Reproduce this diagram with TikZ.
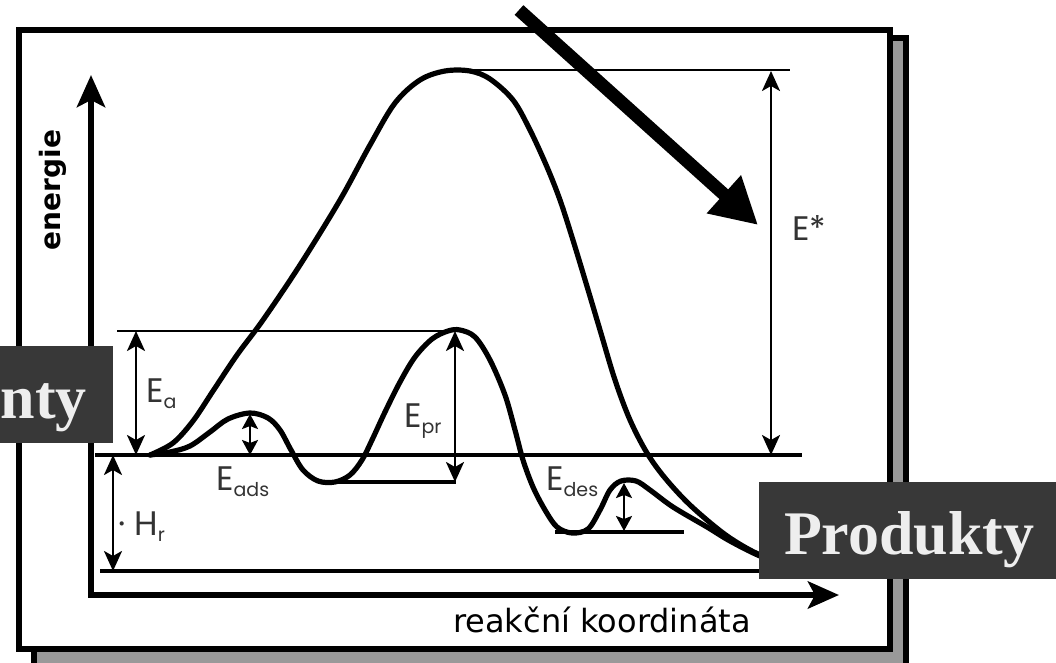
\documentclass[tikz,border=0pt]{standalone}
\usepackage{fontspec}
\setmainfont{Liberation Serif}
\newfontfamily\labfont{Poppins}
\newfontfamily\axfont{DejaVu Sans}
\usetikzlibrary{arrows.meta}
\definecolor{boxgray}{HTML}{383838}
\definecolor{boxtext}{HTML}{EEEEEE}
\definecolor{shadowgray}{HTML}{999999}
\newcommand{\lowtxt}[1]{\raisebox{-6pt}{\fontsize{19}{20}\selectfont #1}}
\begin{document}
\begin{tikzpicture}[x=1pt,y=-1pt,
  curve/.style={line width=5.2pt, line join=round, line cap=round},
  level/.style={line width=3.8pt},
  thinlevel/.style={line width=2.4pt},
  dimarrow/.style={line width=2.5pt, {Stealth[length=20pt,width=18pt,inset=5pt]}-{Stealth[length=20pt,width=18pt,inset=5pt]}},
  smalldim/.style={line width=2.5pt, {Stealth[length=15pt,width=16pt,inset=3pt]}-{Stealth[length=15pt,width=16pt,inset=3pt]}},
  axis/.style={line width=6.5pt, line join=miter, {Stealth[length=32pt,width=28pt,inset=7pt]}-{Stealth[length=31pt,width=27pt,inset=7pt]}},
  elabel/.style={font=\labfont\fontsize{34}{40}\selectfont, text=black!80, inner sep=0pt, anchor=base west},
  darkbox/.style={fill=boxgray, text=boxtext, font=\bfseries\fontsize{62}{70}\selectfont, inner ysep=0pt, text height=72pt, text depth=25pt},
  frameline/.style={line width=6pt}
]
\useasboundingbox (0,0) rectangle (1056,663);
\clip (0,0) rectangle (1056,663);
\fill[white] (0,0) rectangle (1056,663);

% frame with shadow
\draw[frameline, fill=shadowgray] (34,38) rectangle (906,680);
\draw[frameline, fill=white] (19,30) rectangle (890,649);

% coordinates
\coordinate (origin) at (91,595);
\coordinate (yTop) at (91,75);
\coordinate (xEnd) at (839,595);

\coordinate (topL) at (462,70);   \coordinate (topR) at (790,70);
\coordinate (eaL) at (117,331);   \coordinate (eaR) at (456,331);
\coordinate (reacL) at (95,455);  \coordinate (reacR) at (802,455);
\coordinate (intL) at (322,482);  \coordinate (intR) at (456,482);
\coordinate (desL) at (555,532);  \coordinate (desR) at (684,532);
\coordinate (prodL) at (100,571); \coordinate (prodR) at (802,571);

% level lines
\draw[thinlevel] (topL) -- (topR);
\draw[thinlevel] (eaL) -- (eaR);
\draw[level] (reacL) -- (reacR);
\draw[level] (intL) -- (intR);
\draw[level] (desL) -- (desR);
\draw[level] (prodL) -- (prodR);

% uncatalysed curve
\draw[curve] plot[smooth, tension=0.55] coordinates {
 (150,455) (173,443) (193,421) (213,391) (237,355) (263,320) (300,265)
 (340,200) (370,145) (395,103) (420,80) (445,71) (470,71) (490,79)
 (513,100) (530,130) (547,167) (560,200) (572,237) (586,283) (600,330)
 (615,380) (630,420) (647,453) (665,478) (690,505) (723,533) (750,550)
 (775,561) (795,567)};

% catalysed curve
\draw[curve] plot[smooth, tension=0.55] coordinates {
 (150,455) (170,452) (190,446) (210,432) (228,419) (250,413) (268,418)
 (280,430) (291,450) (303,470) (318,481) (335,482) (350,475) (362,460)
 (372,440) (385,412) (400,382) (415,357) (432,339) (448,331) (460,330)
 (475,337) (490,360) (505,395) (515,430) (523,460) (533,487) (545,510)
 (557,527) (572,533) (588,529) (600,510) (610,490) (621,481) (636,481)
 (650,490) (673,507) (707,527) (730,541) (760,556) (795,568)};

% dimension arrows
\coordinate (esT) at (771,71);  \coordinate (esB) at (771,455);
\coordinate (eaT) at (136,331); \coordinate (eaB) at (136,455);
\coordinate (hrT) at (113,455); \coordinate (hrB) at (113,571);
\coordinate (eprT) at (455,331); \coordinate (eprB) at (455,482);
\coordinate (eadsT) at (250,414); \coordinate (eadsB) at (250,455);
\coordinate (edesT) at (624,483); \coordinate (edesB) at (624,531);
\draw[dimarrow] (esT) -- (esB);
\draw[dimarrow] (eaT) -- (eaB);
\draw[dimarrow] (hrT) -- (hrB);
\draw[dimarrow] (eprT) -- (eprB);
\draw[smalldim] (eadsT) -- (eadsB);
\draw[smalldim] (edesT) -- (edesB);

% labels
\node[elabel] (lEstar) at (792,240) {E*};
\node[elabel] (lEa) at (146,402) {E\lowtxt{a}};
\node[elabel] (lEpr) at (404,427) {E\lowtxt{pr}};
\node[elabel] (lEads) at (216,490) {E\lowtxt{ads}};
\node[elabel] (lEdes) at (546,490) {E\lowtxt{des}};
\node[elabel] (lHr) at (118,535) {·\hspace{9pt}H\lowtxt{r}};

% axes
\draw[axis] (yTop) -- (origin) -- (xEnd);
\node[font=\axfont\fontsize{32}{36}\selectfont, anchor=base, inner sep=0pt] (xlab) at (602,632) {reakční koordináta};
\node[font=\axfont\bfseries\fontsize{28}{30}\selectfont, rotate=90, inner sep=0pt] (ylab) at (53,190) {energie};

% big arrow
\coordinate (bigA) at (519,10);
\coordinate (bigB) at (758,225);
\draw[line width=13pt, -{Triangle[length=46pt,width=48pt]}] (bigA) -- (bigB);

% boxes
\node[darkbox, minimum width=300pt, anchor=north west] (prod) at (759,482) {Produkty};
\node[darkbox, inner xsep=26pt, anchor=north east] (reac) at (113,346) {nty};
\end{tikzpicture}
\end{document}
